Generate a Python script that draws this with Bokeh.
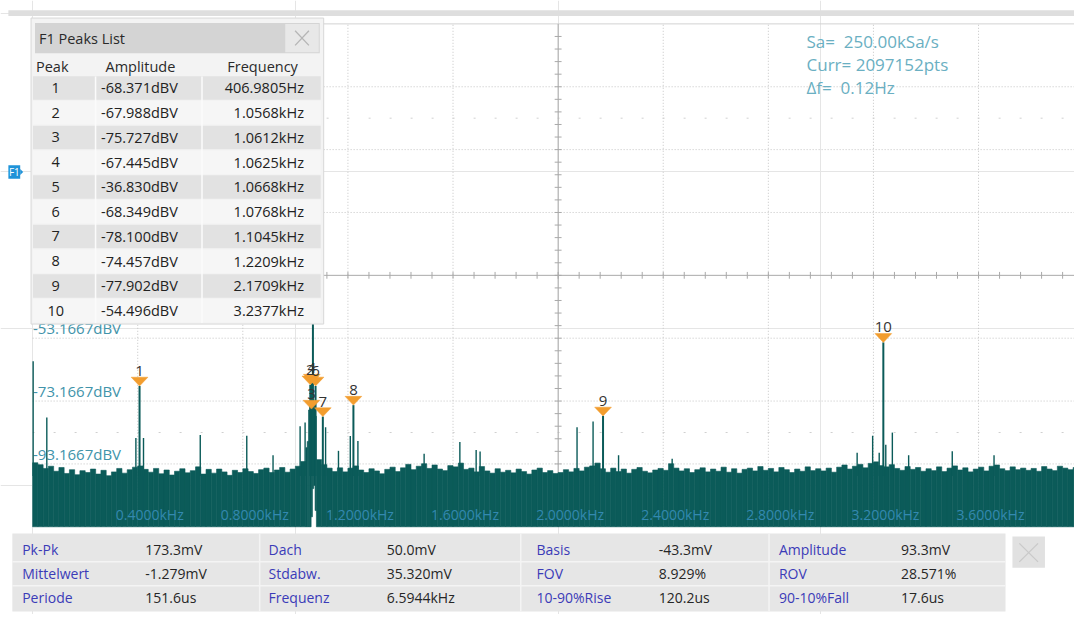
from bokeh.plotting import figure
from bokeh.models import Range1d
from bokeh.core.properties import value
from bokeh.embed import file_html
from bokeh.resources import INLINE

# ------------------------------------------------------------------ data
bin_width_hz = 20
floor_db = [
    -92.8, -93.4, -94.6, -93.9, -95.5, -94.3, -96.2, -95.0, -96.6, -95.3,
    -95.9, -94.8, -96.4, -95.2, -96.9, -95.7, -94.6, -96.1, -95.0, -94.2,
    -93.8, -94.9, -95.8, -94.6, -96.3, -95.1, -96.7, -95.5, -94.7, -96.0,
    -95.3, -94.1, -96.4, -94.9, -96.1, -94.8, -95.7, -96.8, -95.2, -95.9,
    -94.7, -95.6, -96.2, -95.0, -94.5, -95.9, -95.1, -94.3, -95.8, -94.8,
    -93.9, -92.4, None, None, -91.8, -93.4, -94.5, -95.6, -94.4, -95.7,
    -94.5, -93.8, -95.1, -95.9, -94.7, -95.4, -96.3, -94.9, -94.2, -95.6,
    -94.4, -93.3, -95.0, -93.9, -93.1, -94.6, -93.5, -94.8, -95.3, -93.7,
    -94.1, -92.9, -94.9, -94.5, -95.7, -94.0, -95.4, -96.1, -94.7, -95.8,
    -95.2, -96.0, -94.8, -95.6, -96.4, -95.1, -94.5, -95.9, -95.3, -96.2,
    -95.9, -95.0, -95.7, -94.6, -95.4, -94.2, -93.8, -92.9, -94.7, -95.8,
    -94.5, -95.6, -94.8, -96.1, -94.9, -94.3, -95.5, -96.0, -95.1, -94.6,
    -95.2, -93.1, -94.5, -95.4, -94.7, -95.9, -95.0, -94.4, -95.7, -94.8,
    -95.5, -94.2, -95.8, -94.7, -96.1, -94.9, -94.5, -95.4, -94.0, -95.2,
    -94.6, -95.7, -94.3, -95.0, -95.9, -94.8, -95.5, -94.1, -95.3, -94.7,
    -95.4, -94.5, -95.8, -94.2, -93.5, -94.8, -93.9, -93.3, -94.4, -93.0,
    -92.5, -93.7, -94.1, -93.4, -94.6, -95.2, -94.0, -94.9, -94.3, -95.5,
    -94.7, -95.3, -94.1, -95.6, -94.5, -93.8, -95.1, -94.4, -95.7, -94.8,
    -94.2, -95.4, -93.9, -93.5, -94.7, -95.3, -94.1, -95.0, -94.5, -95.2,
    -94.6, -95.5, -94.0, -94.8, -95.3, -93.9, -94.5, -95.0, -94.3, -95.4,
]

# carrier cluster (min/max envelope, 5 Hz columns)
cluster_hz = [1040, 1045, 1050, 1055, 1060, 1065, 1070, 1075]
cluster_top_db = [-88.0, -86.0, -76.0, -73.0, -72.0, -72.5, -74.0, -78.0]
cluster_bottom_db = [-113.1667, -113.1667, -113.1667, -113.1667, -110.0, -101.0, -100.0, -108.0]

# other visible spurs
spur_hz = [2, 54, 393, 422, 638, 815, 915, 1018, 1037, 1115, 1164, 1209, 1238,
           1490, 1626, 1688, 1703, 2072, 2133, 2230, 2434, 3138, 3197, 3222,
           3247, 3272, 3334, 3500, 3659]
spur_db = [-60.5, -78.4, -84.9, -84.9, -84.0, -84.2, -90.4, -81.2, -80.0, -81.5,
           -89.0, -84.3, -85.9, -89.9, -86.2, -88.7, -89.2, -81.5, -79.7, -90.4,
           -91.5, -89.6, -84.2, -89.6, -87.1, -83.2, -90.4, -89.1, -90.4]

# peaks list
peak_no = ["1", "2", "3", "4", "5", "6", "7", "8", "9", "10"]
peak_db = [-68.371, -67.988, -75.727, -67.445, -36.830, -68.349, -78.100, -74.457, -77.902, -54.496]
peak_hz = [406.9805, 1056.8, 1061.2, 1062.5, 1066.8, 1076.8, 1104.5, 1220.9, 2170.9, 3237.7]
peak_amp_text = ["-68.371dBV", "-67.988dBV", "-75.727dBV", "-67.445dBV", "-36.830dBV",
                 "-68.349dBV", "-78.100dBV", "-74.457dBV", "-77.902dBV", "-54.496dBV"]
peak_freq_text = ["406.9805Hz", "1.0568kHz", "1.0612kHz", "1.0625kHz", "1.0668kHz",
                  "1.0768kHz", "1.1045kHz", "1.2209kHz", "2.1709kHz", "3.2377kHz"]
table_headers = ["Peak", "Amplitude", "Frequency"]

x_tick_hz = [400, 800, 1200, 1600, 2000, 2400, 2800, 3200, 3600]
x_tick_labels = ["0.4000kHz", "0.8000kHz", "1.2000kHz", "1.6000kHz", "2.0000kHz",
                 "2.4000kHz", "2.8000kHz", "3.2000kHz", "3.6000kHz"]
y_grid_db = [26.8333, 6.8333, -13.1667, -53.1667, -73.1667, -93.1667]
y_half_db = [16.8333, -83.1667]
y_label_db = [-53.1667, -73.1667, -93.1667]
y_labels = ["-53.1667dBV", "-73.1667dBV", "-93.1667dBV"]

info_lines = ["Sa=\u00a0 250.00kSa/s", "Curr= 2097152pts", "\u0394f=\u00a0 0.12Hz"]

meas_names = [["Pk-Pk", "Dach", "Basis", "Amplitude"],
              ["Mittelwert", "Stdabw.", "FOV", "ROV"],
              ["Periode", "Frequenz", "10-90%Rise", "90-10%Fall"]]
meas_values = [["173.3mV", "50.0mV", "-43.3mV", "93.3mV"],
               ["-1.279mV", "35.320mV", "8.929%", "28.571%"],
               ["151.6us", "6.5944kHz", "120.2us", "17.6us"]]

# ------------------------------------------------------------------ layout
# The canvas represents the whole 1090x630 screen, slightly compressed.
W, H = 1074, 614
SCR_W, SCR_H = 1090, 630
X0_PX = 32.6
PX_PER_HZ = 106.667 / 400.0
Y_MID_PX = 282.0
DB_MID = -33.1667
PX_PER_DB = 64.5 / 20.0
F_MAX = 4000.0
DB_BOTTOM = -113.1667
DB_TOP = 46.8333
SPIKE_BASE_DB = -97.0


def px_to_hz(px):
    return (px - X0_PX) / PX_PER_HZ


def py_to_db(py):
    return DB_MID - (py - Y_MID_PX) / PX_PER_DB


FONT = value("Open Sans")
TEAL = "#0b5b59"
GRID = "#c4c4c4"

p = figure(width=W, height=H,
           x_range=Range1d(px_to_hz(0), px_to_hz(SCR_W)),
           y_range=Range1d(py_to_db(SCR_H), py_to_db(0)),
           output_backend="svg", toolbar_location=None,
           x_axis_location=None, y_axis_location=None,
           min_border=0, title=None)
p.outline_line_color = None
p.background_fill_color = "white"
p.border_fill_color = "white"
p.extra_x_ranges = {"px": Range1d(0, SCR_W)}
p.extra_y_ranges = {"px": Range1d(SCR_H, 0)}
PX = dict(x_range_name="px", y_range_name="px")

# top bar and frame top
p.quad(left=[8], right=[1090], top=[10], bottom=[16], fill_color="#dedede", line_color=None, **PX)
p.segment(x0=[0], x1=[F_MAX], y0=[DB_TOP], y1=[DB_TOP], line_color="#d2d2d2", line_width=1)

# grid
vx = [f for f in x_tick_hz if f != 2000]
p.segment(x0=vx, x1=vx, y0=[DB_BOTTOM] * len(vx), y1=[DB_TOP] * len(vx),
          line_color=GRID, line_width=1, line_dash="1 2")
p.segment(x0=[0] * len(y_grid_db), x1=[F_MAX] * len(y_grid_db), y0=y_grid_db, y1=y_grid_db,
          line_color=GRID, line_width=1, line_dash="1 2")
p.segment(x0=[0] * len(y_half_db), x1=[F_MAX] * len(y_half_db), y0=y_half_db, y1=y_half_db,
          line_color="#d0d0d0", line_width=1, line_dash="2 19")

# centre cross with minor ticks
p.segment(x0=[2000], x1=[2000], y0=[DB_BOTTOM], y1=[DB_TOP], line_color="#a9a9a9", line_width=1)
p.segment(x0=[0], x1=[F_MAX], y0=[DB_MID], y1=[DB_MID], line_color="#a9a9a9", line_width=1)
tick_db = [DB_BOTTOM + 4 * k for k in range(1, 40)]
hx = 3.5 / PX_PER_HZ
p.segment(x0=[2000 - hx] * len(tick_db), x1=[2000 + hx] * len(tick_db), y0=tick_db, y1=tick_db,
          line_color="#a9a9a9", line_width=1)
tick_hz = [80 * k for k in range(1, 50)]
hy = 3.5 / PX_PER_DB
p.segment(x0=tick_hz, x1=tick_hz, y0=[DB_MID - hy] * len(tick_hz), y1=[DB_MID + hy] * len(tick_hz),
          line_color="#a9a9a9", line_width=1)

# y level labels (under the trace)
p.text(x=[33] * len(y_labels), y=y_label_db, text=y_labels, x_range_name="px",
       text_font=FONT, text_font_size="15px", text_color="#4193aa",
       text_align="left", text_baseline="bottom")

# spectrum
fl = [(bin_width_hz * i, v) for i, v in enumerate(floor_db) if v is not None]
p.quad(left=[f for f, _ in fl], right=[f + bin_width_hz for f, _ in fl],
       top=[v for _, v in fl], bottom=DB_BOTTOM,
       fill_color=TEAL, line_color=TEAL, line_width=0.6)
p.quad(left=cluster_hz, right=[f + 5 for f in cluster_hz], top=cluster_top_db, bottom=cluster_bottom_db,
       fill_color=TEAL, line_color=TEAL, line_width=0.6)
p.segment(x0=spur_hz, x1=spur_hz, y0=[SPIKE_BASE_DB] * len(spur_hz), y1=spur_db,
          line_color=TEAL, line_width=1.4)
p.segment(x0=peak_hz, x1=peak_hz, y0=[SPIKE_BASE_DB] * len(peak_hz), y1=peak_db,
          line_color=TEAL, line_width=2)

# x labels on the trace
p.text(x=x_tick_hz, y=[527] * len(x_tick_hz), text=x_tick_labels, y_range_name="px",
       x_offset=12, text_font=FONT, text_font_size="14px", text_color="#3389b0",
       text_align="center", text_baseline="middle")

# peak markers
tw = 8.5 / PX_PER_HZ
th = 9.0 / PX_PER_DB
xs = [[f - tw, f + tw, f] for f in peak_hz]
ys = [[a + th, a + th, a] for a in peak_db]
p.patches(xs=xs, ys=ys, fill_color="#f29d2e", line_color="#f29d2e", line_width=0.5)
p.text(x=peak_hz, y=peak_db, text=peak_no, y_offset=-15,
       text_font=FONT, text_font_size="15px", text_color="#333333",
       text_align="center", text_baseline="middle")

# acquisition info
p.text(x=[818] * 3, y=[42, 65.5, 89], text=info_lines, **PX,
       text_font=FONT, text_font_size="17px", text_color="#6aafc2",
       text_align="left", text_baseline="middle")

# ---------------- F1 peaks list panel
p.quad(left=[31], right=[328], top=[18], bottom=[332], fill_color="#f3f3f3", line_color="#d8d8d8", **PX)
p.quad(left=[35], right=[324], top=[23], bottom=[54], fill_color="#d4d4d4", line_color=None, **PX)
p.quad(left=[289], right=[323], top=[24], bottom=[53], fill_color="#e8e8e8", line_color=None, **PX)
p.segment(x0=[299, 313], y0=[31, 31], x1=[313, 299], y1=[46, 46], line_color="#b5b5b5", line_width=1.3, **PX)
p.text(x=[39], y=[39.5], text=["F1 Peaks List"], **PX, text_font=FONT, text_font_size="14.5px",
       text_color="#2a2a2a", text_align="left", text_baseline="middle")
p.text(x=[36], y=[68], text=table_headers[:1], **PX, text_font=FONT,
       text_font_size="14.5px", text_color="#2a2a2a", text_align="left", text_baseline="middle")
p.text(x=[142, 266], y=[68, 68], text=table_headers[1:], **PX, text_font=FONT,
       text_font_size="14.5px", text_color="#2a2a2a", text_align="center", text_baseline="middle")

ROW0, PITCH = 77.0, 25.4
n = len(peak_no)
row_top = [ROW0 + PITCH * i + 0.6 for i in range(n)]
row_bot = [t + PITCH - 1.2 for t in row_top]
row_fill = ["#e2e2e2" if i % 2 == 0 else "#f6f6f6" for i in range(n)]
p.quad(left=[33] * n, right=[325] * n, top=row_top, bottom=row_bot, fill_color=row_fill,
       line_color=None, **PX)
p.segment(x0=[96.5, 204.5], x1=[96.5, 204.5], y0=[78, 78], y1=[331, 331],
          line_color="#fbfbfb", line_width=1.5, **PX)
row_mid = [ROW0 + PITCH * (i + 0.5) for i in range(n)]
p.text(x=[56] * n, y=row_mid, text=peak_no, **PX, text_font=FONT, text_font_size="14.5px",
       text_color="#222222", text_align="center", text_baseline="middle")
p.text(x=[102] * n, y=row_mid, text=peak_amp_text, **PX, text_font=FONT, text_font_size="14.5px",
       text_color="#222222", text_align="left", text_baseline="middle")
p.text(x=[308] * n, y=row_mid, text=peak_freq_text, **PX, text_font=FONT, text_font_size="14.5px",
       text_color="#222222", text_align="right", text_baseline="middle")

# F1 channel tag
p.quad(left=[8], right=[20], top=[169], bottom=[183], fill_color="#1f93d8", line_color=None, **PX)
p.patches(xs=[[20, 23, 20]], ys=[[173, 176, 179]], fill_color="#1f93d8", line_color=None, **PX)
p.text(x=[8.5], y=[176], text=["F1"], **PX, text_font=FONT, text_font_size="10px",
       text_color="white", text_align="left", text_baseline="middle")

# ---------------- measurement panel
p.quad(left=[12], right=[1020], top=[547], bottom=[627], fill_color="#e6e6e6", line_color=None, **PX)
p.segment(x0=[12, 12], x1=[1020, 1020], y0=[576, 600.5], y1=[576, 600.5],
          line_color="#f4f4f4", line_width=1.5, **PX)
p.segment(x0=[263, 528, 780], x1=[263, 528, 780], y0=[547] * 3, y1=[627] * 3,
          line_color="#f4f4f4", line_width=1.5, **PX)
label_x = [22, 272, 544, 790]
value_x = [147, 392, 668, 914]
row_y = [563.5, 588.3, 612.7]
for r in range(3):
    p.text(x=label_x, y=[row_y[r]] * 4, text=meas_names[r], **PX, text_font=FONT,
           text_font_size="14px", text_color="#3b3bb8", text_align="left", text_baseline="middle")
    p.text(x=value_x, y=[row_y[r]] * 4, text=meas_values[r], **PX, text_font=FONT,
           text_font_size="14px", text_color="#262626", text_align="left", text_baseline="middle")
p.quad(left=[1027], right=[1060], top=[550], bottom=[582], fill_color="#e1e1e1", line_color=None, **PX)
p.segment(x0=[1034, 1053], y0=[557, 557], x1=[1053, 1034], y1=[576, 576],
          line_color="#c9c9c9", line_width=1.3, **PX)

open("out.html", "w").write(file_html(p, INLINE))
